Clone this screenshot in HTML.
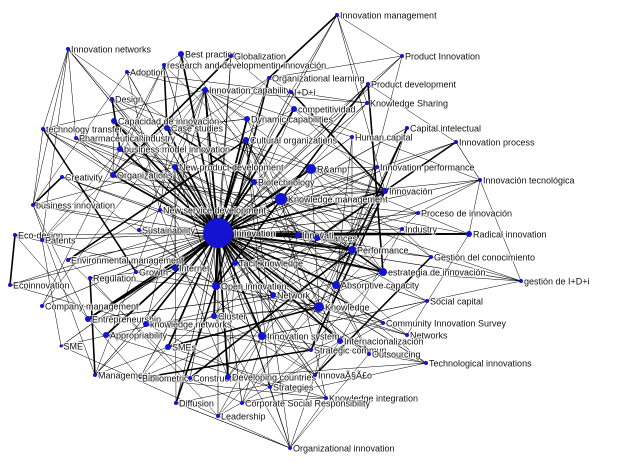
<!DOCTYPE html>
<html><head><meta charset="utf-8"><style>
html,body{margin:0;padding:0;background:#fff;width:622px;height:472px;overflow:hidden}
svg{display:block}
text{font-family:"Liberation Sans",sans-serif;font-size:9px;fill:#111;paint-order:stroke;stroke:#fff;stroke-width:2px;stroke-opacity:0.8}
</style></head><body>
<svg id="s" width="622" height="472" viewBox="0 0 622 472" xmlns="http://www.w3.org/2000/svg">
<g id="e" stroke="#000" fill="none"></g><g id="l"></g><g id="n" fill="#1414d0"></g>
</svg>
<script>
var N=[
["Innovation management",337,15,2],["Innovation networks",68,49,2],["Best practices",181,54,3],["Globalization",231,56,2],
["research and developmentin innovación",164,65,2],["Product Innovation",402,56,2],["Adoption",127,72,2],["Organizational learning",269,78,2],
["Product development",368,84,2],["I+D+i",291,92,2],["Design",112,99,2],["Innovation capability",205,90,3],["competitividad",294,109,3],
["Knowledge Sharing",367,103,2],["Capacidad de innovación",114,121,3],["Dynamic capabilities",247,119,3],["technology transfer",43,129,2],
["Case studies",167,128,3],["Capital intelectual",407,128,2],["Pharmaceutical industry",76,138,2],["Human capital",352,137,2],
["Innovation process",456,142,2],["Cultural organizations",246,140,3],["business model innovation",120,149,3],["New product development",175,167,3],
["R&amp",311,169,5],["Organizations",113,175,3],["Innovation performance",377,167,2],["Biotechnology",254,182,3],["Creativity",62,177,2],
["Innovación tecnológica",480,180,2],["Innovación",385,191,3],["business innovation",33,205,2],["Knowledge management",281,199,6],
["New service development",160,210,2],["Innovation",218,233,15],["Proceso de innovación",418,213,2],["Eco-design",15,235,2],
["Sustainability",139,230,2],["Patents",42,240,2],["Alliances",317,238,3],["Industry",402,229,2],["Radical innovation",469,234,3],
["Innovati",298,235,3],["Performance",352,250,4],["Environmental management",68,260,2],["Tacit knowledge",235,263,3],
["Gestión del conocimiento",431,257,2],["Internet",175,268,3],["Growth",136,272,2],["Regulation",90,278,2],["estrategia de innovación",383,272,4],
["Ecoinnovation",10,285,2],["gestión de I+D+i",521,281,2],["Open innovation",216,286,4],["Absorptive capacity",336,285,4],
["Company management",42,306,2],["Network",273,295,3],["Knowledge",319,307,5],["Social capital",427,301,2],["Entrepreneurship",88,319,3],
["Cluster",214,316,3],["knowledge networks",146,324,3],["Appropriability",106,335,3],["Community Innovation Survey",383,323,2],
["Innovation system",262,336,4],["Networks",407,335,2],["Internacionalización",340,341,3],["SME",61,346,1.5],["SMEs",168,347,3],
["Strategic commun",311,350,2],["Outsourcing",369,354,2],["Technological innovations",426,363,2],["Management",95,375,2],
["Bibliometrics",140,378,1],["Construction",190,378,2],["Developing countries",228,377,3],["InnovaÃ§Ã£o",315,375,2],
["Strategies",270,387,2],["Knowledge integration",326,398,2],["Diffusion",176,403,2],["Corporate Social Responsibility",242,403,2],
["Leadership",218,416,2],["Organizational innovation",290,448,2]];
var s=1234567;function r(){s=(s*1103515245+12345)%2147483648;return s/2147483648;}
var E=document.getElementById('e'),L=document.getElementById('l'),G=document.getElementById('n'),ns="http://www.w3.org/2000/svg";
function ln(a,b,w){if(!a||!b)return;var p=document.createElementNS(ns,'line');p.setAttribute('x1',a[1]);p.setAttribute('y1',a[2]);p.setAttribute('x2',b[1]);p.setAttribute('y2',b[2]);p.setAttribute('stroke-width',w);E.appendChild(p);}
for(var i=0;i<N.length;i++){var a=N[i];
 var c=document.createElementNS(ns,'circle');c.setAttribute('cx',a[1]);c.setAttribute('cy',a[2]);c.setAttribute('r',a[3]);G.appendChild(c);
 var t=document.createElementNS(ns,'text');t.setAttribute('x',a[1]+a[3]+1);t.setAttribute('y',a[2]+3.5);t.textContent=a[0];L.appendChild(t);}
var hub=N[35],hubs=[25,33,58,51,44,31,24,22,11,54,65];
for(var i=0;i<N.length;i++){var a=N[i];
 if(i!=35)ln(a,hub,a[3]>=3?1.8:0.6);
 for(var k=0;k<4;k++){var j=Math.floor(r()*N.length);if(j!=i){var b=N[j],d=Math.hypot(a[1]-b[1],a[2]-b[2]);if(d<200)ln(a,b,r()<.1?1.6:0.5);}}
 ln(a,N[hubs[Math.floor(r()*hubs.length)]],r()<.15?1.6:0.5);
}
var Z=N.length-1;
[[0,5],[0,13],[0,9],[30,53],[30,42],[53,51],[53,47],[21,30],[Z,Z-6],[Z,Z-3],[Z,Z-12],[Z,Z-15],[1,16],[1,10],[1,19]].forEach(function(p){ln(N[p[0]],N[p[1]],0.5);});
</script>
</body></html>
